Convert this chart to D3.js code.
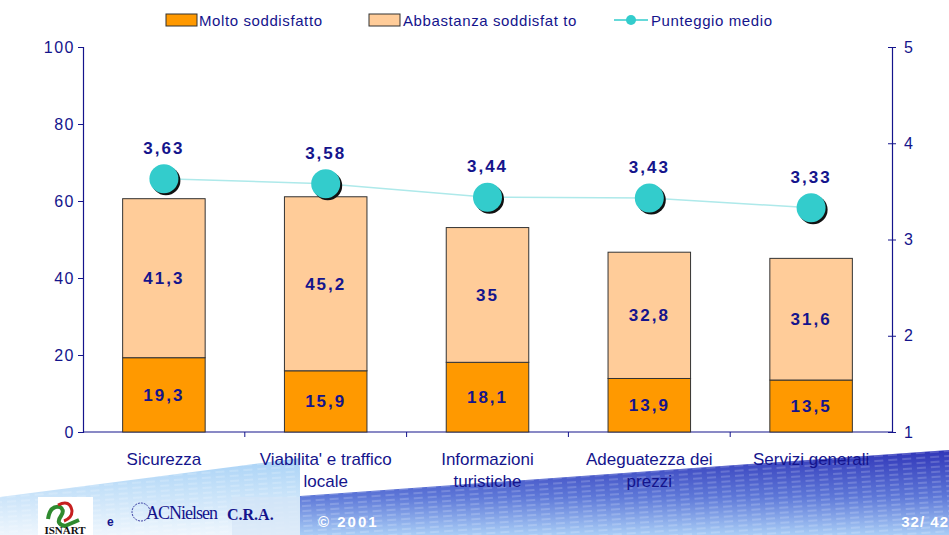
<!DOCTYPE html>
<html>
<head>
<meta charset="utf-8">
<script src="https://cdn.jsdelivr.net/npm/d3@7"></script>
<style>
  body { margin: 0; background: #fff; }
  svg { display: block; font-family: "Liberation Sans", Arial, sans-serif; }
</style>
</head>
<body>
<div id="chart"></div>
<script>
// data
var categories = ["Sicurezza", "Viabilita' e traffico|locale", "Informazioni|turistiche", "Adeguatezza dei|prezzi", "Servizi generali"];
var molto = [19.3, 15.9, 18.1, 13.9, 13.5];
var abbastanza = [41.3, 45.2, 35, 32.8, 31.6];
var punteggio = [3.63, 3.58, 3.44, 3.43, 3.33];
var leftTicks = [0, 20, 40, 60, 80, 100];
var rightTicks = [1, 2, 3, 4, 5];
var seriesNames = ["Molto soddisfatto", "Abbastanza soddisfat to", "Punteggio medio"];

var svgWidth = 949, svgHeight = 535;
var margin = { top: 47, right: 57, bottom: 103, left: 83 };
var width = svgWidth - margin.left - margin.right;
var height = svgHeight - margin.top - margin.bottom;

var navy = "#14148c";
var fmt = function(v) { return String(v).replace(".", ","); };

var svg = d3.select("#chart").append("svg")
  .attr("width", svgWidth)
  .attr("height", svgHeight);

// ---- footer background (drawn first, sits behind the category labels)
var defs = svg.append("defs");
var g1 = defs.append("linearGradient").attr("id", "lightBlue")
  .attr("x1", 0).attr("y1", 0).attr("x2", 0).attr("y2", 1);
g1.append("stop").attr("offset", "0%").attr("stop-color", "#a8d2f6");
g1.append("stop").attr("offset", "100%").attr("stop-color", "#eef6fd");
var g2 = defs.append("linearGradient").attr("id", "darkBlue")
  .attr("x1", 0).attr("y1", 0).attr("x2", 0).attr("y2", 1);
g2.append("stop").attr("offset", "0%").attr("stop-color", "#3035b8");
g2.append("stop").attr("offset", "55%").attr("stop-color", "#5e78d8");
g2.append("stop").attr("offset", "100%").attr("stop-color", "#a9cdf6");
var hatch = defs.append("pattern").attr("id", "hatch")
  .attr("width", 14).attr("height", 5)
  .attr("patternUnits", "userSpaceOnUse")
  .attr("patternTransform", "rotate(-4)");
hatch.append("line").attr("x1", 0).attr("y1", 1).attr("x2", 9).attr("y2", 1)
  .attr("stroke", "#ffffff").attr("stroke-opacity", 0.35).attr("stroke-width", 1);

svg.append("path")
  .attr("d", "M0,497 L300,458 L300,535 L0,535 Z")
  .attr("fill", "url(#lightBlue)");
svg.append("path")
  .attr("d", "M0,497 L300,458 L300,535 L0,535 Z")
  .attr("fill", "url(#hatch)");
svg.append("rect").attr("x", 232).attr("y", 497).attr("width", 68).attr("height", 38)
  .attr("fill", "#d4e4f6").attr("opacity", 0.6);
svg.append("path")
  .attr("d", "M300,496 L949,450 L949,535 L300,535 Z")
  .attr("fill", "url(#darkBlue)");
svg.append("path")
  .attr("d", "M300,496 L949,450 L949,535 L300,535 Z")
  .attr("fill", "url(#hatch)");

// ---- scales
var x = d3.scaleBand().domain(categories).range([margin.left, margin.left + width]).paddingInner(0).paddingOuter(0);
var yL = d3.scaleLinear().domain([0, 100]).range([margin.top + height, margin.top]);
var yR = d3.scaleLinear().domain([1, 5]).range([margin.top + height, margin.top]);
var barW = x.bandwidth() * 0.51;

// ---- axes
var leftAxis = svg.append("g")
  .attr("transform", "translate(" + margin.left + ",0)")
  .call(d3.axisLeft(yL).tickValues(leftTicks).tickSize(5).tickPadding(3));
var rightAxis = svg.append("g")
  .attr("transform", "translate(" + (margin.left + width) + ",0)")
  .call(d3.axisRight(yR).tickValues(rightTicks).tickFormat(d3.format("d")).tickSize(4).tickPadding(8));
rightAxis.selectAll(".tick line").attr("x1", -4);

[leftAxis, rightAxis].forEach(function(ax) {
  ax.select(".domain").attr("stroke", navy).attr("stroke-width", 1.2);
  ax.selectAll(".tick line").attr("stroke", navy);
  ax.selectAll(".tick text")
    .attr("fill", navy)
    .style("font-size", "16px")
    .style("letter-spacing", "1.5px");
});
rightAxis.selectAll(".tick text").style("letter-spacing", "0px");

// x axis line and ticks at category boundaries
svg.append("line")
  .attr("x1", margin.left).attr("x2", margin.left + width)
  .attr("y1", yL(0)).attr("y2", yL(0))
  .attr("stroke", navy).attr("stroke-width", 1.2);
svg.selectAll(".xtick").data(categories.slice(1)).enter().append("line")
  .attr("x1", function(d) { return x(d); }).attr("x2", function(d) { return x(d); })
  .attr("y1", yL(0)).attr("y2", yL(0) + 5)
  .attr("stroke", navy);

// category labels
var catLabels = svg.selectAll(".cat").data(categories).enter().append("text")
  .attr("x", function(d) { return x(d) + x.bandwidth() / 2; })
  .attr("y", 465)
  .attr("text-anchor", "middle")
  .attr("fill", navy)
  .style("font-size", "17px");
catLabels.each(function(d) {
  var lines = d.split("|");
  var t = d3.select(this);
  lines.forEach(function(l, i) {
    t.append("tspan")
      .attr("x", x(d) + x.bandwidth() / 2)
      .attr("dy", i === 0 ? 0 : 22)
      .text(l);
  });
});

// ---- stacked bars
var bars = svg.append("g");
bars.selectAll(".molto").data(molto).enter().append("rect")
  .attr("x", function(d, i) { return x(categories[i]) + (x.bandwidth() - barW) / 2; })
  .attr("y", function(d) { return yL(d); })
  .attr("width", barW)
  .attr("height", function(d) { return yL(0) - yL(d); })
  .attr("fill", "#ff9900")
  .attr("stroke", "#333").attr("stroke-width", 1);
bars.selectAll(".abb").data(abbastanza).enter().append("rect")
  .attr("x", function(d, i) { return x(categories[i]) + (x.bandwidth() - barW) / 2; })
  .attr("y", function(d, i) { return yL(molto[i] + d); })
  .attr("width", barW)
  .attr("height", function(d, i) { return yL(molto[i]) - yL(molto[i] + d); })
  .attr("fill", "#ffcc99")
  .attr("stroke", "#333").attr("stroke-width", 1);

// bar value labels
svg.selectAll(".lblM").data(molto).enter().append("text")
  .attr("x", function(d, i) { return x(categories[i]) + x.bandwidth() / 2; })
  .attr("y", function(d) { return yL(d / 2) + 6; })
  .attr("text-anchor", "middle")
  .attr("fill", navy)
  .style("font-size", "17px").style("font-weight", "bold").style("letter-spacing", "2px")
  .text(fmt);
svg.selectAll(".lblA").data(abbastanza).enter().append("text")
  .attr("x", function(d, i) { return x(categories[i]) + x.bandwidth() / 2; })
  .attr("y", function(d, i) { return yL(molto[i] + d / 2) + 6; })
  .attr("text-anchor", "middle")
  .attr("fill", navy)
  .style("font-size", "17px").style("font-weight", "bold").style("letter-spacing", "2px")
  .text(fmt);

// ---- average score line
var line = d3.line()
  .x(function(d, i) { return x(categories[i]) + x.bandwidth() / 2; })
  .y(function(d) { return yR(d); });
svg.append("path").datum(punteggio)
  .attr("d", line)
  .attr("fill", "none")
  .attr("stroke", "#aee9ea").attr("stroke-width", 1.5);

svg.selectAll(".shadow").data(punteggio).enter().append("circle")
  .attr("cx", function(d, i) { return x(categories[i]) + x.bandwidth() / 2 + 2; })
  .attr("cy", function(d) { return yR(d) + 2; })
  .attr("r", 14.5)
  .attr("fill", "#111");
svg.selectAll(".dot").data(punteggio).enter().append("circle")
  .attr("cx", function(d, i) { return x(categories[i]) + x.bandwidth() / 2; })
  .attr("cy", function(d) { return yR(d); })
  .attr("r", 14.5)
  .attr("fill", "#33cccc");
svg.selectAll(".lblP").data(punteggio).enter().append("text")
  .attr("x", function(d, i) { return x(categories[i]) + x.bandwidth() / 2; })
  .attr("y", function(d) { return yR(d) - 25; })
  .attr("text-anchor", "middle")
  .attr("fill", navy)
  .style("font-size", "17px").style("font-weight", "bold").style("letter-spacing", "2px")
  .text(function(d) { return fmt(d.toFixed(2)); });

// ---- legend
var legend = svg.append("g").style("font-size", "15px").style("letter-spacing", "0.6px");
legend.append("rect").attr("x", 166).attr("y", 14).attr("width", 31).attr("height", 12)
  .attr("fill", "#ff9900").attr("stroke", "#333");
legend.append("text").attr("x", 199).attr("y", 26).attr("fill", navy).text(seriesNames[0]);
legend.append("rect").attr("x", 369).attr("y", 14).attr("width", 31).attr("height", 12)
  .attr("fill", "#ffcc99").attr("stroke", "#333");
legend.append("text").attr("x", 403).attr("y", 26).attr("fill", navy).text(seriesNames[1]);
legend.append("line").attr("x1", 614).attr("x2", 648).attr("y1", 20).attr("y2", 20)
  .attr("stroke", "#33cccc").attr("stroke-width", 1.5);
legend.append("circle").attr("cx", 631).attr("cy", 20).attr("r", 5).attr("fill", "#33cccc");
legend.append("text").attr("x", 651).attr("y", 26).attr("fill", navy).text(seriesNames[2]);

// ---- footer logos and texts
svg.append("rect").attr("x", 38).attr("y", 497).attr("width", 55).attr("height", 40).attr("fill", "#fff");
svg.append("path").attr("d", "M48,519 q2,-14 12,-12 q5,3 1,9 q-6,8 4,10 l14,-6")
  .attr("fill", "none").attr("stroke", "#2f8a2f").attr("stroke-width", 4);
svg.append("path").attr("d", "M58,505 q12,-6 14,6 q0,7 -8,10")
  .attr("fill", "none").attr("stroke", "#c62020").attr("stroke-width", 3);
svg.append("text").attr("x", 65).attr("y", 534).attr("text-anchor", "middle")
  .style("font-family", "'Liberation Serif', serif").style("font-weight", "bold")
  .style("font-size", "11px").attr("fill", "#111").text("ISNART");
svg.append("text").attr("x", 107).attr("y", 526)
  .style("font-weight", "bold").style("font-size", "12px").attr("fill", navy).text("e");
svg.append("circle").attr("cx", 141).attr("cy", 512).attr("r", 9)
  .attr("fill", "none").attr("stroke", navy).attr("stroke-width", 0.8).attr("stroke-dasharray", "2,1");
svg.append("text").attr("x", 146).attr("y", 519)
  .style("font-family", "'Liberation Serif', serif")
  .style("font-size", "18px").style("letter-spacing", "-1px").attr("fill", navy).text("ACNielsen");
svg.append("text").attr("x", 227).attr("y", 520)
  .style("font-family", "'Liberation Serif', serif").style("font-weight", "bold")
  .style("font-size", "16px").attr("fill", navy).text("C.R.A.");
svg.append("text").attr("x", 318).attr("y", 527)
  .style("font-weight", "bold").style("font-size", "15px").style("letter-spacing", "2px")
  .attr("fill", "#fff").text("© 2001");
svg.append("text").attr("x", 949).attr("y", 527).attr("text-anchor", "end")
  .style("font-weight", "bold").style("font-size", "15px").style("letter-spacing", "1px")
  .attr("fill", "#fff").text("32/ 42");
</script>
</body>
</html>
